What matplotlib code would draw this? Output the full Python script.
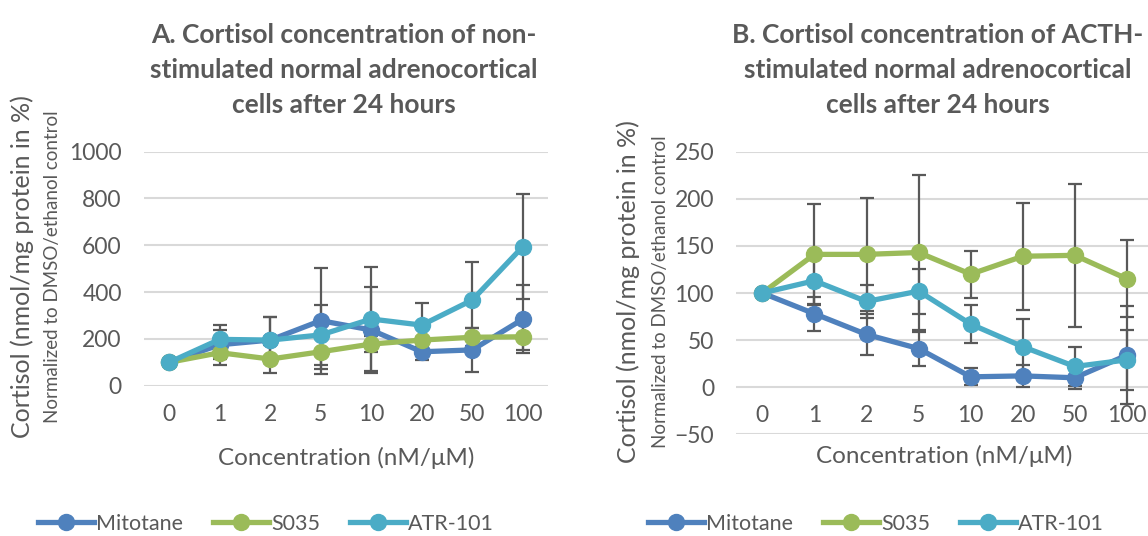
import matplotlib
matplotlib.use("Agg")
from matplotlib import pyplot as plt
from matplotlib.lines import Line2D
import numpy as np

plt.rcParams['font.family'] = ['Lato', 'DejaVu Sans']

concentrations = ['0', '1', '2', '5', '10', '20', '50', '100']
series_names = ['Mitotane', 'S035', 'ATR-101']
colors = ['#4F81BD', '#9BBB59', '#4BACC6']
text_color = '#595959'
grid_color = '#D9D9D9'

# non-stimulated cells, cortisol in % of control
mitotane_a = [100, 175, 195, 278, 238, 145, 153, 284]
mitotane_a_err = [0, 63, 98, 226, 185, 35, 93, 146]
s035_a = [100, 141, 114, 145, 178, 195, 207, 209]
s035_a_err = [0, 53, 58, 72, 33, 15, 38, 56]
atr_a = [100, 198, 195, 217, 285, 259, 366, 594]
atr_a_err = [0, 61, 100, 128, 224, 93, 161, 225]

# ACTH-stimulated cells
mitotane_b = [100, 78, 56, 41, 11, 12, 10, 34]
mitotane_b_err = [0, 18, 22, 18, 9, 12, 12, 52]
s035_b = [100, 141, 141, 143, 120, 139, 140, 115]
s035_b_err = [0, 54, 60, 82, 25, 57, 76, 41]
atr_b = [100, 113, 91, 102, 67, 43, 22, 29]
atr_b_err = [0, 25, 18, 24, 20, 29, 21, 32]

W, H = 1148, 536
fig = plt.figure(figsize=(W / 100, H / 100), dpi=100)


def px_axes(left, top, right, bottom):
    return fig.add_axes([left / W, 1 - bottom / H, (right - left) / W, (bottom - top) / H])


def draw_panel(ax, values, errors, ylim, yticks):
    x = np.arange(len(concentrations))
    for vals, errs, col in zip(values, errors, colors):
        ax.errorbar(x, vals, yerr=errs, fmt='none', ecolor='#595959', elinewidth=1.6,
                    capsize=5, capthick=1.6, zorder=2)
    for vals, col in zip(values, colors):
        ax.plot(x, vals, color=col, linewidth=3.8, marker='o', markersize=11.5,
                solid_capstyle='round', zorder=3)
    ax.set_xlim(-0.5, len(concentrations) - 0.5)
    ax.set_ylim(*ylim)
    ax.set_yticks(yticks)
    ax.set_xticks(x)
    ax.set_xticklabels(concentrations)
    ax.yaxis.grid(True, color=grid_color, linewidth=1.5)
    ax.set_axisbelow(True)
    for s in ['top', 'right', 'left']:
        ax.spines[s].set_visible(False)
    ax.spines['bottom'].set_position(('data', 0))
    ax.spines['bottom'].set_visible(False)
    ax.tick_params(axis='both', length=0, labelsize=16.5, labelcolor=text_color)
    ax.tick_params(axis='x', pad=13)
    ax.tick_params(axis='y', pad=16)
    ax.patch.set_visible(False)


ax_a = px_axes(144, 151.7, 548, 385.7)
draw_panel(ax_a, [mitotane_a, s035_a, atr_a], [mitotane_a_err, s035_a_err, atr_a_err],
           (0, 1000), [0, 200, 400, 600, 800, 1000])

ax_b = px_axes(736.3, 151.7, 1153, 434.3)
draw_panel(ax_b, [mitotane_b, s035_b, atr_b], [mitotane_b_err, s035_b_err, atr_b_err],
           (-50, 250), [-50, 0, 50, 100, 150, 200, 250])

titles = [
    (344, 'A. Cortisol concentration of non-\nstimulated normal adrenocortical\ncells after 24 hours'),
    (938, 'B. Cortisol concentration of ACTH-\nstimulated normal adrenocortical\ncells after 24 hours'),
]
for cx, t in titles:
    fig.text(cx / W, 1 - 70 / H, t, ha='center', va='center', fontsize=19,
             fontweight='bold', color=text_color, linespacing=1.55)

# axis titles
for cx, y in [(346, 458), (944, 456)]:
    fig.text(cx / W, 1 - y / H, 'Concentration (nM/\u03bcM)', ha='center', va='center',
             fontsize=17.5, color=text_color)
for x1, x2, yc in [(22, 53, 267), (628, 660, 292)]:
    fig.text(x1 / W, 1 - yc / H, 'Cortisol (nmol/mg protein in %)', rotation=90,
             ha='center', va='center', fontsize=18, color=text_color)
    fig.text(x2 / W, 1 - yc / H, 'Normalized to DMSO/ethanol control', rotation=90,
             ha='center', va='center', fontsize=13.5, color=text_color)

# legends below each panel
handles = [Line2D([], [], color=c, linewidth=3.8, marker='o', markersize=11.5) for c in colors]
for cx in [266, 876]:
    fig.legend(handles, series_names, loc='center', bbox_to_anchor=(cx / W, 1 - 524 / H),
               ncol=3, frameon=False, fontsize=15.5, handlelength=2.6, handletextpad=0.1,
               columnspacing=1.4, labelcolor=text_color)

fig.savefig('out.png', dpi=100)
